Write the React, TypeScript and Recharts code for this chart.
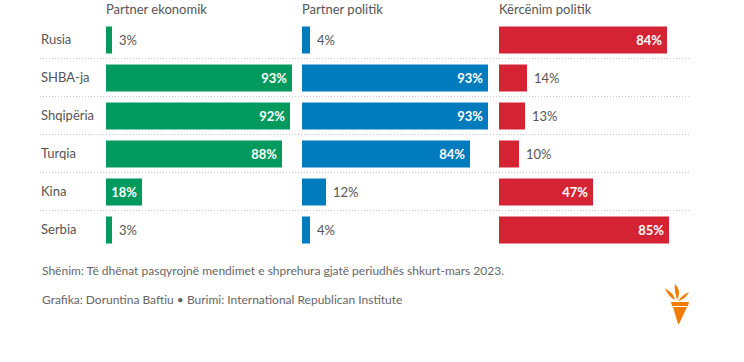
import { Bar, BarChart, CartesianGrid, LabelList, XAxis, YAxis } from "recharts";

const countries = ["Rusia", "SHBA-ja", "Shqipëria", "Turqia", "Kina", "Serbia"];
const economicPartner = [3, 93, 92, 88, 18, 3];
const politicalPartner = [4, 93, 93, 84, 12, 4];
const politicalThreat = [84, 14, 13, 10, 47, 85];
const panelTitles = ["Partner ekonomik", "Partner politik", "Kërcënim politik"];

const data = countries.map((country, i) => ({
  country,
  economic: economicPartner[i],
  political: politicalPartner[i],
  threat: politicalThreat[i],
}));

const FONT = "Lato, 'Open Sans', sans-serif";
const GREEN = "#009a5e";
const BLUE = "#007bbd";
const RED = "#d42333";

function ValueLabel(props: any) {
  const { x, y, width, height, value } = props;
  const inside = value >= 15;
  return (
    <text
      x={inside ? x + width - 5 : x + width + 7}
      y={y + height / 2}
      dy="0.35em"
      textAnchor={inside ? "end" : "start"}
      fill={inside ? "#fff" : "#555"}
      fontWeight={inside ? 700 : 400}
      fontSize={13}
      fontFamily={FONT}
    >
      {value}%
    </text>
  );
}

function CountryTick(props: any) {
  const { y, payload, index } = props;
  const last = index === countries.length - 1;
  return (
    <g>
      <text x={41} y={y} dy="0.35em" fill="#555" fontSize={13} fontFamily={FONT}>
        {payload.value}
      </text>
      {!last && (
        <line x1={40} x2={689} y1={y + 19} y2={y + 19} stroke="#ccc" strokeDasharray="1 2" />
      )}
    </g>
  );
}

function Logo() {
  return (
    <svg width={30} height={42} viewBox="0 0 30 42" style={{ position: "absolute", left: 662, top: 284 }}>
      <path d="M3 4 C8 8 12 10 13 16 C10 14 6 12 3 4 Z" fill="#f07d00" />
      <path d="M13 0 C18 5 18 10 15 16 C14 11 12 6 13 0 Z" fill="#f07d00" />
      <path d="M27 8 C25 12 21 16 16 17 C19 13 22 10 27 8 Z" fill="#f07d00" />
      <path d="M9 18 L27 18 L26 22 L10 22 Z" fill="#f07d00" />
      <path d="M11 23 L25 23 L17 40 L16 40 Z" fill="#f07d00" />
    </svg>
  );
}

export default function App() {
  return (
    <div style={{ position: "absolute", left: 0, top: 0, width: 744, height: 362, background: "#fff", fontFamily: FONT }}>
      {panelTitles.map((t, i) => (
        <div
          key={t}
          style={{ position: "absolute", left: [106, 302, 499][i], top: 1, fontSize: 13, color: "#555" }}
        >
          {t}
        </div>
      ))}
      <BarChart
        width={744}
        height={362}
        data={data}
        layout="vertical"
        margin={{ top: 20.5, right: 55, bottom: 113.5, left: 40 }}
        style={{ position: "absolute", left: 0, top: 0 }}
      >
        <XAxis xAxisId="a" type="number" domain={[0, 291.5]} hide />
        <XAxis xAxisId="b" type="number" domain={[-98, 193.5]} hide />
        <XAxis xAxisId="c" type="number" domain={[-196.5, 95]} hide />
        <YAxis
          yAxisId="a"
          type="category"
          dataKey="country"
          width={66}
          axisLine={false}
          tickLine={false}
          tick={<CountryTick />}
        />
        <YAxis yAxisId="b" type="category" dataKey="country" width={66} hide />
        <YAxis yAxisId="c" type="category" dataKey="country" width={66} hide />
        <Bar dataKey="economic" xAxisId="a" yAxisId="a" fill={GREEN} barSize={27} isAnimationActive={false}>
          <LabelList dataKey="economic" content={<ValueLabel />} />
        </Bar>
        <Bar dataKey="political" xAxisId="b" yAxisId="b" fill={BLUE} barSize={27} isAnimationActive={false}>
          <LabelList dataKey="political" content={<ValueLabel />} />
        </Bar>
        <Bar dataKey="threat" xAxisId="c" yAxisId="c" fill={RED} barSize={27} isAnimationActive={false}>
          <LabelList dataKey="threat" content={<ValueLabel />} />
        </Bar>
      </BarChart>
      <div style={{ position: "absolute", left: 42, top: 263, fontSize: 12, color: "#666" }}>
        Shënim: Të dhënat pasqyrojnë mendimet e shprehura gjatë periudhës shkurt-mars 2023.
      </div>
      <div style={{ position: "absolute", left: 42, top: 292, fontSize: 12, color: "#666" }}>
        Grafika: Doruntina Baftiu • Burimi: International Republican Institute
      </div>
      <Logo />
    </div>
  );
}
